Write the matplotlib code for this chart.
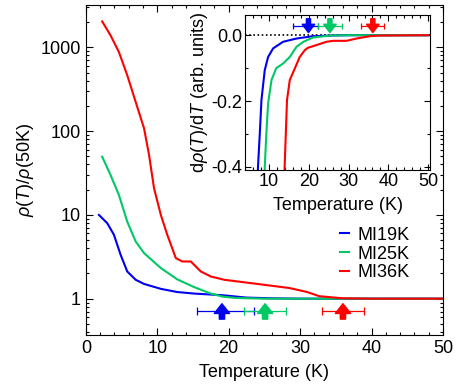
import matplotlib
matplotlib.use('Agg')
from matplotlib import pyplot as plt
from matplotlib.ticker import MultipleLocator, LogLocator, NullFormatter, FixedLocator, FixedFormatter, FuncFormatter

plt.rcParams['font.family'] = ['Liberation Sans', 'DejaVu Sans']
plt.rcParams['mathtext.fontset'] = 'custom'
plt.rcParams['mathtext.rm'] = 'Liberation Sans'
plt.rcParams['mathtext.it'] = 'Liberation Sans:italic'
plt.rcParams['font.size'] = 13

# Colours
c_blue = '#0000f0'
c_green = '#00c864'
c_red = '#ff0000'

# Main panel: rho(T)/rho(50K)
labels = ['MI19K', 'MI25K', 'MI36K']

T_19 = [1.83, 3.0, 3.93, 4.87, 5.8, 6.98, 8.15, 10.5, 12.8, 15.2, 19.1, 22.5, 26, 30, 40, 50]
r_19 = [10.0, 7.96, 5.8, 3.34, 2.11, 1.68, 1.50, 1.31, 1.20, 1.15, 1.10, 1.03, 1.01, 1.0, 1.0, 1.0]

T_25 = [2.29, 3.46, 4.63, 5.8, 6.98, 8.15, 10.5, 12.8, 15.2, 17.5, 19.1, 21, 25, 30, 40, 50]
r_25 = [49.5, 29.9, 17.3, 8.3, 4.81, 3.5, 2.32, 1.70, 1.37, 1.15, 1.06, 1.02, 1.0, 1.0, 1.0, 1.0]

T_36 = [2.29, 3.46, 4.63, 5.8, 6.98, 8.15, 8.85, 9.55, 10.5, 11.4, 12.6, 13.5, 14.7, 16.1, 17.5,
        19.4, 24, 28.5, 31, 32.7, 36, 40, 50]
r_36 = [2040, 1390, 879, 464, 223, 108, 52, 20.8, 10.0, 5.8, 3.05, 2.78, 2.78, 2.11, 1.84,
        1.68, 1.5, 1.34, 1.2, 1.07, 1.01, 1.0, 1.0]

# Onset temperatures with asymmetric error bars (main panel)
Tc_main = [19.06, 25.1, 36.0]
err_lo_main = [3.55, 3.0, 2.9]
err_hi_main = [4.55, 2.9, 3.0]

# Inset: d rho / dT
Td_19 = [7.1, 7.2, 7.65, 8.07, 8.9, 9.75, 11.0, 13.5, 16.9, 21, 25.3, 30, 40, 50]
d_19 = [-0.45, -0.40, -0.30, -0.197, -0.106, -0.066, -0.040, -0.020, -0.010, -0.003, -0.001, 0, 0, 0]

Td_25 = [8.85, 8.9, 9.3, 9.75, 10.6, 11.8, 13.5, 15.2, 16.9, 18.6, 21, 25.3, 30, 40, 50]
d_25 = [-0.45, -0.40, -0.30, -0.207, -0.136, -0.10, -0.086, -0.066, -0.035, -0.02, -0.007, -0.001, 0, 0, 0]

Td_36 = [13.85, 13.9, 14.2, 14.5, 15.2, 16.5, 17.7, 19.0, 19.8, 21.9, 24.4, 26.1, 29.5, 32, 35.3, 37.8, 50]
d_36 = [-0.45, -0.40, -0.30, -0.197, -0.136, -0.10, -0.066, -0.045, -0.038, -0.030, -0.020, -0.017,
        -0.017, -0.010, -0.003, -0.001, 0]

Tc_inset = [19.9, 25.3, 36.1]
err_lo_inset = [3.8, 3.0, 3.0]
err_hi_inset = [2.5, 3.0, 2.9]

colors = [c_blue, c_green, c_red]

########################################################################################################################
fig = plt.figure(figsize=(4.59, 3.88), dpi=100)
ax = fig.add_axes([0.187, 0.137, 0.778, 0.850])

for T, r, c, lab in zip([T_19, T_25, T_36], [r_19, r_25, r_36], colors, labels):
    ax.plot(T, r, color=c, lw=1.5, label=lab)

y_bar = 0.72
for Tc, lo, hi, c in zip(Tc_main, err_lo_main, err_hi_main, colors):
    ax.errorbar([Tc], [y_bar], xerr=[[lo], [hi]], fmt='none', ecolor=c, elinewidth=0.9, capsize=3, capthick=0.9)
    ax.annotate('', xy=(Tc, 0.87), xytext=(Tc, 0.57),
                arrowprops=dict(width=3.8, headwidth=11, headlength=7, color=c, shrink=0))

ax.set_yscale('log')
ax.set_xlim(0, 50)
ax.set_ylim(0.37, 3200)
ax.xaxis.set_major_locator(MultipleLocator(10))
ax.xaxis.set_minor_locator(MultipleLocator(2))
ax.yaxis.set_major_locator(FixedLocator([1, 10, 100, 1000]))
ax.yaxis.set_major_formatter(FixedFormatter(['1', '10', '100', '1000']))
ax.yaxis.set_minor_locator(LogLocator(base=10, subs=range(2, 10)))
ax.yaxis.set_minor_formatter(NullFormatter())
ax.tick_params(which='both', direction='in', top=True, right=True, width=0.8)
ax.tick_params(which='major', length=5, labelsize=13)
ax.tick_params(which='minor', length=2.5)
ax.set_xlabel('Temperature (K)', fontsize=13, labelpad=5)
ax.set_ylabel(r'$\rho(T)/\rho$(50K)', fontsize=13, labelpad=3)

leg = ax.legend(loc='center left', bbox_to_anchor=(0.665, 0.245), frameon=False, handlelength=0.5,
                handletextpad=0.5, labelspacing=0.1, fontsize=13)

########################################################################################################################
# Inset
axi = fig.add_axes([0.534, 0.562, 0.403, 0.399])
axi.axhline(0, color='black', ls=(0, (1, 1.5)), lw=1.2, zorder=1)
for T, d, c in zip([Td_19, Td_25, Td_36], [d_19, d_25, d_36], colors):
    axi.plot(T, d, color=c, lw=1.5, zorder=2)

y_bar_i = 0.028
for Tc, lo, hi, c in zip(Tc_inset, err_lo_inset, err_hi_inset, colors):
    axi.errorbar([Tc], [y_bar_i], xerr=[[lo], [hi]], fmt='none', ecolor=c, elinewidth=0.9, capsize=2, capthick=0.9)
    axi.annotate('', xy=(Tc, 0.008), xytext=(Tc, 0.05),
                 arrowprops=dict(width=3, headwidth=9, headlength=6, color=c, shrink=0))

axi.set_xlim(3.96, 50.5)
axi.set_ylim(-0.409, 0.061)
axi.xaxis.set_major_locator(MultipleLocator(10))
axi.xaxis.set_minor_locator(MultipleLocator(2))
axi.yaxis.set_major_locator(MultipleLocator(0.2))
axi.yaxis.set_minor_locator(MultipleLocator(0.1))
axi.yaxis.set_major_formatter(FuncFormatter(lambda v, p: '%.1f' % v))
axi.tick_params(which='both', direction='in', top=True, right=True, width=0.8)
axi.tick_params(which='major', length=4, labelsize=13, pad=2)
axi.tick_params(which='minor', length=2)
axi.set_xlabel('Temperature (K)', fontsize=13, labelpad=5)
axi.set_ylabel(r'd$\rho(T)$/d$T$ (arb. units)', fontsize=13, labelpad=1)

plt.savefig('out.png', dpi=100)
